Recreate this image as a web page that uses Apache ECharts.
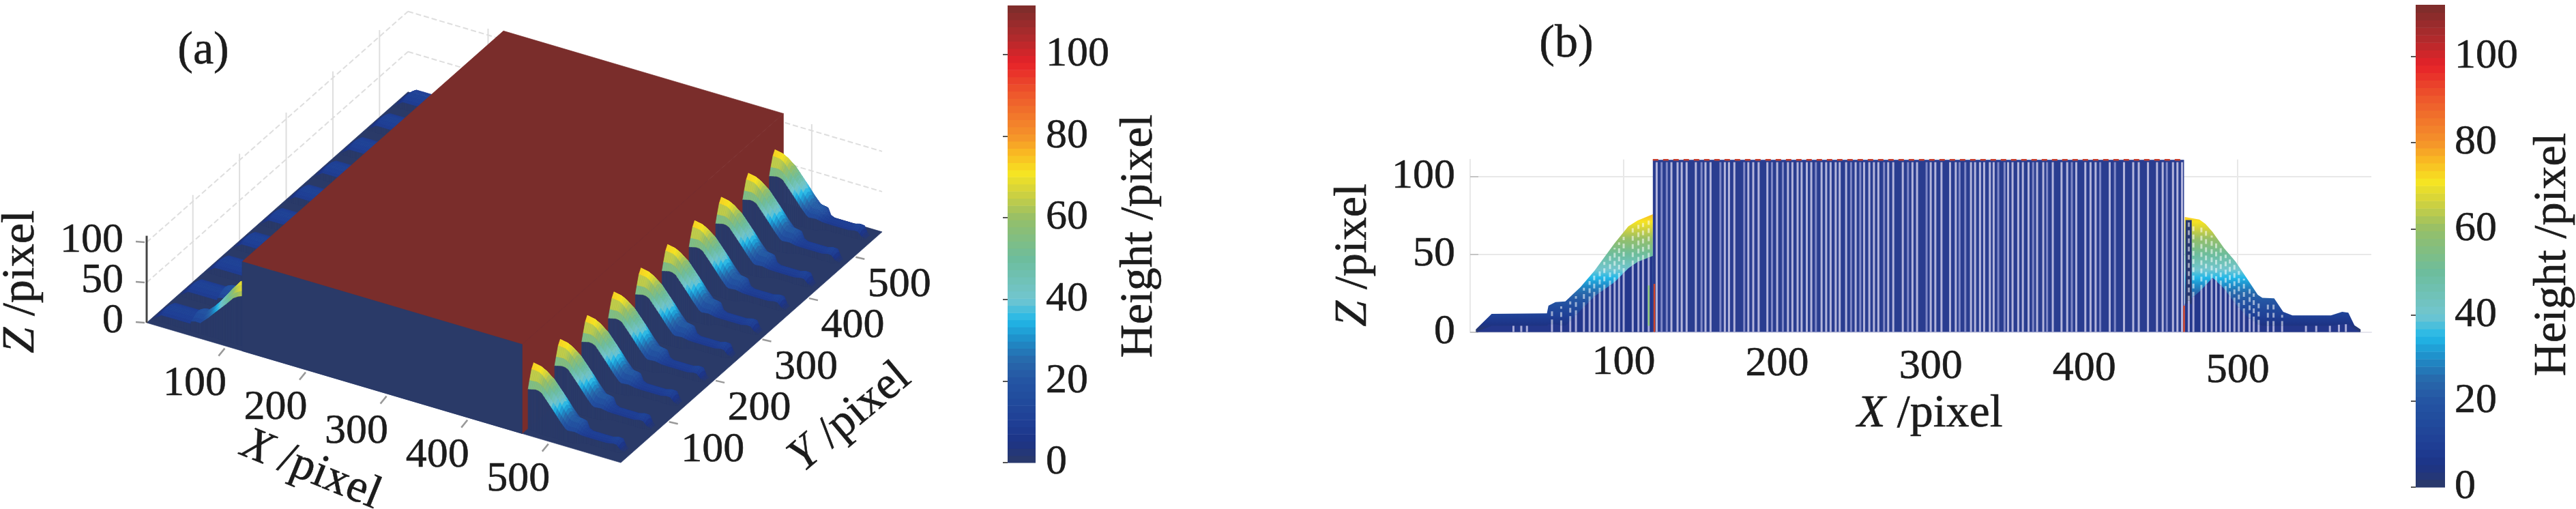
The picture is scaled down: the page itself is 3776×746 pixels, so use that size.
<!DOCTYPE html>
<html><head><meta charset="utf-8">
<style>html,body{margin:0;padding:0;background:#fff;overflow:hidden}#c{width:3776px;height:746px}</style>
<script src="https://cdn.jsdelivr.net/npm/echarts@6/dist/echarts.min.js"></script>
</head><body><div id="c"></div>
<script>
// ---- values ----
const axisTicks = [100, 200, 300, 400, 500];
const zTicks = [0, 50, 100];
const barTicks = [0, 20, 40, 60, 80, 100];
const colorZ = [0, 5, 10, 20, 25, 30, 35, 40, 50, 60, 66, 71, 76, 80, 90, 98, 104, 112];
const colorHex = ['#2b3a68','#1d3486','#1f3f95','#2455a3','#2868ab','#1f8cc8','#22b8e8','#72c6d0','#6dbd9c','#96bf68','#cfd13f','#f6e422','#f9b823','#f5942a','#ee5a2c','#e62229','#b22a2c','#7a2d2b'];
const leftX     = [3.7, 14, 50, 51, 55.6, 62, 72, 81, 94, 103, 109, 119];
const leftCrest = [1.7, 11.7, 12, 17, 19.3, 19.7, 29, 39.5, 57, 68, 71.7, 75.8];
const leftEdge  = [0, 4, 4, 5, 5, 4, 14, 23, 32, 41, 45, 49];
const leftWidth = [1, 1, 1, 1, 1, 1, 1, 1, 1, 1, 1, 1];
const rightX     = [465.5, 475, 479, 483.6, 491, 498.6, 506, 513, 516, 523.7, 529.6, 535.6, 560.7, 568, 572, 576, 580];
const rightCrest = [74, 72.4, 69.5, 64.4, 54, 45.3, 34.4, 24, 22, 21.7, 13, 10.7, 10.7, 13, 12.5, 4.3, 1.7];
const rightEdge  = [18, 26, 30, 35, 28, 18, 10, 5, 4, 4, 4, 4, 4, 5, 5, 2, 0];
const rightWidth = [0.8, 0.85, 0.9, 1, 1, 1, 1, 1, 1, 0.9, 0.6, 0.5, 0.5, 0.5, 0.5, 0.4, 0.3];
const toothY = [25, 82, 140, 197, 255, 312, 370, 427, 485, 542];
const toothCrossY = [-15, -11, -5.5, 0, 5.5, 11, 15];
const toothCrossMix = [0.55, 0.72, 0.93, 1.03, 0.93, 0.72, 0.55];
const brickX = [119, 465];
const brickTop = 110.8;
const extentX = [1, 587];
const extentY = [1, 561];
const brickStripes = [121.5,124.7,128.1,131.1,135.1,137.8,141,147,150.7,153.3,156.6,163,165.9,168.6,172.1,178.5,181.2,184.4,187.9,193.6,196.6,200,203.7,207,209.9,213.3,215.9,219.3,222.2,225.2,228.9,231.9,234.8,238.1,240.7,244.9,248.1,251.1,254.1,256.6,260,263,265.9,269.6,272.3,275.6,281.8,285.2,288.1,291.1,297.3,300,303,307,312.6,316.3,318.8,322.5,326.2,328.9,332.1,334.8,338.5,341,344,348.1,350.4,353.3,357,360,363.7,366.7,369.3,373.3,375.8,379.5,385.2,388.9,391.9,394.8,400.7,404.1,407.4,410.4,416.6,420,425.9,431.9,435.5,441.5,447.4,451.1,453.8,457.8,460.7,463.7];
const leftStripes = [28.2,33.3,37,53.3,59.3,65.2,68.9,74.1,77.8,80.8,84.4,87.4,91.1,94.1,97,100,105.9,109.6,112.6,116.3];
const rightStripes = [468.1,471.1,476.3,479.3,483,485.9,488.9,492.1,494.8,497.8,500.7,504,507.7,510.4,513.6,519.6,523.3,528.9,544.4,551.1,560,565.9,570.4];

// ---- helpers ----
const FONT = '"Liberation Serif", "DejaVu Serif", serif';
const INK = '#1c1c1c';
const HEAVY = 0.6;
function lerp(xs, ys, x) {
  if (x <= xs[0]) return ys[0];
  for (let i = 1; i < xs.length; i++) if (x <= xs[i]) {
    return ys[i-1] + (ys[i]-ys[i-1])*(x-xs[i-1])/(xs[i]-xs[i-1]);
  }
  return ys[ys.length-1];
}
function cmap(z) {
  z = Math.max(0, Math.min(112, z));
  let i = 1; while (i < colorZ.length-1 && z > colorZ[i]) i++;
  return echarts.color.lerp((z-colorZ[i-1])/(colorZ[i]-colorZ[i-1]), [colorHex[i-1], colorHex[i]]);
}
// oblique view of panel (a): data (X,Y,Z) -> plane used by the hidden axes
function project(X, Y, Z) {
  return [215 + 1.186*(X-1) + 0.684*(Y-1), 473 + 0.35*(X-1) - 0.604*(Y-1) - 1.18*Z];
}

// ---- panel (a) surface facets, painter-ordered ----
const NAVY = '#2a3a68', BRICK = '#7a2d2b';
const facets = [];
function facet(vs, fill) { facets.push({vs, fill}); }
function samples(xs) {
  const out = [];
  for (let i = 0; i < xs.length-1; i++) {
    const n = Math.max(1, Math.round((xs[i+1]-xs[i])/2.2));
    for (let k = 0; k < n; k++) out.push(xs[i] + (xs[i+1]-xs[i])*k/n);
  }
  out.push(xs[xs.length-1]);
  return out;
}
function addTeeth(xs, crest, edge, width) {
  const sx = samples(xs);
  const h = (x, m) => { const e = lerp(xs, edge, x), c = lerp(xs, crest, x); return e + (c-e)*m; };
  const w = x => lerp(xs, width, x);
  for (let t = toothY.length-1; t >= 0; t--) {
    const yc = toothY[t];
    for (let i = 0; i < sx.length-1; i++) {
      const a = sx[i], b = sx[i+1], wa = w(a), wb = w(b);
      for (let j = toothCrossY.length-1; j > 0; j--) {
        const y1 = toothCrossY[j], y0 = toothCrossY[j-1];
        const m1 = toothCrossMix[j], m0 = toothCrossMix[j-1];
        const z = [h(a,m0), h(b,m0), h(b,m1), h(a,m1)];
        facet([[a,yc+y0*wa,z[0]],[b,yc+y0*wb,z[1]],[b,yc+y1*wb,z[2]],[a,yc+y1*wa,z[3]]], cmap((z[0]+z[1]+z[2]+z[3])/4));
      }
      const y0 = toothCrossY[0], m0 = toothCrossMix[0];
      facet([[a,yc+y0*wa,0],[b,yc+y0*wb,0],[b,yc+y0*wb,h(b,m0)],[a,yc+y0*wa,h(a,m0)]], NAVY);
    }
  }
}
facet([[extentX[0],extentY[0],0],[extentX[1],extentY[0],0],[extentX[1],extentY[1],0],[extentX[0],extentY[1],0]], NAVY);
addTeeth(leftX, leftCrest, leftEdge, leftWidth);
facet([[brickX[1],extentY[0],0],[brickX[1],extentY[1],0],[brickX[1],extentY[1],brickTop],[brickX[1],extentY[0],brickTop]], BRICK);
facet([[brickX[0],extentY[0],brickTop],[brickX[1],extentY[0],brickTop],[brickX[1],extentY[1],brickTop],[brickX[0],extentY[1],brickTop]], BRICK);
facet([[brickX[0],extentY[0],0],[brickX[1],extentY[0],0],[brickX[1],extentY[0],brickTop],[brickX[0],extentY[0],brickTop]], NAVY);
addTeeth(rightX, rightCrest, rightEdge, rightWidth);

// light grid of the 3-D box
const GRIDZ = 108;
const boxLines = [];
[50,100].forEach(z => {
  boxLines.push([[extentX[0],extentY[0],z],[extentX[0],extentY[1],z]]);
  boxLines.push([[extentX[0],extentY[1],z],[extentX[1],extentY[1],z]]);
});
axisTicks.forEach(v => {
  boxLines.push([[extentX[0],v,0],[extentX[0],v,GRIDZ]]);
  boxLines.push([[v,extentY[1],0],[v,extentY[1],GRIDZ]]);
});

// ---- text and tick marks of panel (a), given in data space plus a screen offset ----
const tickMarks = [], tickTexts = [];
axisTicks.forEach(v => {
  tickMarks.push({p:[v,extentY[0],0], a:[-12,14], b:[-3,3]});
  tickTexts.push({p:[v,extentY[0],0], off:[-47,55], text:String(v), align:'center'});
  tickMarks.push({p:[extentX[1],v,0], a:[16,3], b:[3,0]});
  tickTexts.push({p:[extentX[1],v,0], off:[67,41], text:String(v), align:'center'});
});
zTicks.forEach(v => {
  tickMarks.push({p:[extentX[0],extentY[0],v], a:[-16,-1], b:[-3,0]});
  tickTexts.push({p:[extentX[0],extentY[0],v], off:[-34,-2], text:String(v), align:'right'});
});

// ---- bar levels ----
const barLevels = [];
for (let i = 0; i < 64; i++) barLevels.push([i*112/64, (i+1)*112/64]);

// ---- series ----
const hiddenA = {xAxisIndex:0, yAxisIndex:0};
const series = [
  Object.assign({type:'custom', name:'box grid', silent:true, clip:false, animation:false, z:1,
    data: boxLines.map((_, i) => [i]),
    renderItem(p, api) {
      const l = boxLines[api.value(0)];
      const a = api.coord(project(...l[0])), b = api.coord(project(...l[1]));
      return {type:'line', shape:{x1:a[0],y1:a[1],x2:b[0],y2:b[1]}, style:{stroke:'#dedede', lineWidth:2, lineDash: l[0][2]===l[1][2] ? [8,4] : null}};
    }}, hiddenA),
  Object.assign({type:'custom', name:'height surface', silent:true, clip:false, animation:false, progressive:0, z:2,
    data: facets.map((_, i) => [i]),
    renderItem(p, api) {
      const f = facets[api.value(0)];
      const pts = f.vs.map(v => api.coord(project(v[0], v[1], v[2])));
      return {type:'polygon', shape:{points:pts}, style:{fill:f.fill, stroke:f.fill, lineWidth:0.7}};
    }}, hiddenA),
  Object.assign({type:'custom', name:'ticks a', silent:true, clip:false, animation:false, z:3,
    data: tickMarks.map((_, i) => [i]),
    renderItem(p, api) {
      const t = tickMarks[api.value(0)];
      const c = api.coord(project(...t.p));
      return {type:'line', shape:{x1:c[0]+t.a[0],y1:c[1]+t.a[1],x2:c[0]+t.b[0],y2:c[1]+t.b[1]}, style:{stroke:'#999', lineWidth:2.5}};
    }}, hiddenA),
  Object.assign({type:'custom', name:'tick labels a', silent:true, clip:false, animation:false, z:4,
    data: tickTexts.map((_, i) => [i]),
    renderItem(p, api) {
      const t = tickTexts[api.value(0)];
      const c = api.coord(project(...t.p));
      return {type:'text', x:c[0]+t.off[0], y:c[1]+t.off[1],
        style:{text:t.text, fill:INK, stroke:INK, lineWidth:HEAVY, font:'62px '+FONT, align:t.align, verticalAlign:'middle'}};
    }}, hiddenA),
  Object.assign({type:'custom', name:'z axis', silent:true, clip:false, animation:false, z:3,
    data:[[0]],
    renderItem(p, api) {
      const a = api.coord(project(extentX[0],extentY[0],0)), b = api.coord(project(extentX[0],extentY[0],108));
      return {type:'line', shape:{x1:a[0],y1:a[1],x2:b[0],y2:b[1]}, style:{stroke:'#444', lineWidth:3}};
    }}, hiddenA)
];
function barSeries(i) {
  return {type:'custom', name:'colorbar '+i, silent:true, clip:false, animation:false, z:2, xAxisIndex:i, yAxisIndex:i,
    data: barLevels.map(l => [l[0], l[1]]),
    renderItem(p, api) {
      const a = api.coord([0, api.value(0)]), b = api.coord([1, api.value(1)]);
      return {type:'rect', shape:{x:a[0], y:b[1], width:b[0]-a[0], height:a[1]-b[1]+0.6},
        style:{fill:cmap((api.value(0)+api.value(1))/2)}};
    }};
}
series.push(barSeries(1), barSeries(3));

// ---- panel (b): side view on real axes ----
const closed = (xs, ys) => [[xs[0],0]].concat(xs.map((x,i)=>[x,ys[i]])).concat([[xs[xs.length-1],0]]);
const sideShapes = [
  {pts: closed(leftX, leftCrest), kind:'grad'},
  {pts: closed(rightX, rightCrest), kind:'grad'},
  {pts: closed(leftX, leftEdge), kind:'#24378c'},
  {pts: closed(rightX, rightEdge), kind:'#24378c'},
  {pts: [[466,18],[466,72],[470,72],[470,18]], kind:'#27376f'},
  {pts: [[brickX[0],0],[brickX[0],brickTop],[brickX[1],brickTop],[brickX[1],0]], kind:'#2a3d90'}
];
series.push({type:'custom', name:'side view', silent:true, clip:false, animation:false, z:2, xAxisIndex:2, yAxisIndex:2,
  data: sideShapes.map((_, i) => [i]),
  renderItem(p, api) {
    const s = sideShapes[api.value(0)];
    const pts = s.pts.map(q => api.coord(q));
    let fill = s.kind;
    if (fill === 'grad') {
      const y0 = api.coord([0,0])[1], y1 = api.coord([0,112])[1];
      fill = {type:'linear', global:true, x:0, y:y0, x2:0, y2:y1,
        colorStops: colorZ.map((z,i)=>({offset:z/112, color:colorHex[i]}))};
    }
    return {type:'polygon', shape:{points:pts}, style:{fill}};
  }});
const sideStripes = [];
brickStripes.forEach((x,i) => sideStripes.push({x, lo:0, hi:brickTop-1.5, color: i%7===1||i%9===2 ? '#7f88c6' : '#b3b5dc', w:3}));
[[leftStripes,leftX,leftCrest,leftEdge],[rightStripes,rightX,rightCrest,rightEdge]].forEach(g => {
  g[0].forEach(x => {
    const e = lerp(g[1],g[3],x), c = lerp(g[1],g[2],x);
    sideStripes.push({x, lo:0, hi:Math.max(e,3), color:'#a9acd8', w:3});
    if (c-e > 8) sideStripes.push({x, lo:e, hi:c-3, color:'rgba(255,255,255,0.55)', w:3, dash:[7,5]});
  });
});
series.push({type:'custom', name:'side stripes', silent:true, clip:false, animation:false, z:3, xAxisIndex:2, yAxisIndex:2,
  data: sideStripes.map((_, i) => [i]),
  renderItem(p, api) {
    const s = sideStripes[api.value(0)];
    const a = api.coord([s.x,s.lo]), b = api.coord([s.x,s.hi]);
    return {type:'line', shape:{x1:a[0],y1:a[1],x2:b[0],y2:b[1]}, style:{stroke:s.color, lineWidth:s.w, lineDash:s.dash||null}};
  }});
const wallEdges = [
  {x:120, lo:0, hi:31, color:'#d0452b'},
  {x:116.3, lo:4, hi:30, color:'#8fc77a'},
  {x:465, lo:0, hi:17, color:'#d0452b'}
];
series.push({type:'custom', name:'wall edges', silent:true, clip:false, animation:false, z:4, xAxisIndex:2, yAxisIndex:2,
  data: wallEdges.map((_, i) => [i]),
  renderItem(p, api) {
    const s = wallEdges[api.value(0)];
    const a = api.coord([s.x,s.lo]), b = api.coord([s.x,s.hi]);
    return {type:'line', shape:{x1:a[0],y1:a[1],x2:b[0],y2:b[1]}, style:{stroke:s.color, lineWidth:2.5}};
  }});
series.push({type:'line', name:'top edge', silent:true, animation:false, z:4, xAxisIndex:2, yAxisIndex:2, symbol:'none',
  data: brickX.map(x => [x, brickTop]), lineStyle:{color:'#c8402f', width:2.5, type:[8,7]}});

// ---- axes ----
const labelStyle = {color:INK, fontFamily:FONT, fontSize:62, textBorderColor:INK, textBorderWidth:HEAVY};
const xShift = {100:0, 200:2, 300:6, 400:9, 500:12};
const rich = {};
axisTicks.forEach(v => { rich['t'+v] = {color:INK, fontFamily:FONT, fontSize:62, textBorderColor:INK, textBorderWidth:HEAVY, padding:[xShift[v],0,0,0]}; });
const barY = (gi) => ({gridIndex:gi, type:'value', position:'right', min:0, max:112, z:5,
  axisLine:{show:false}, splitLine:{show:false},
  axisTick:{inside:true, length:7, customValues:barTicks, lineStyle:{color:'#555', width:2}},
  axisLabel:Object.assign({margin:gi===1?15:14, customValues:barTicks}, labelStyle)});
const title = (text, x, y, deg, size) => ({type:'text', x, y, rotation:deg*Math.PI/180, z:20, silent:true,
  style:{text, fill:INK, stroke:INK, lineWidth:HEAVY, font:size+'px '+FONT, align:'center', verticalAlign:'middle',
    rich:{i:{fontFamily:FONT, fontStyle:'italic', fontSize:size, fill:INK, stroke:INK, lineWidth:HEAVY}}}});

const chart = echarts.init(document.getElementById('c'), null, {renderer:'canvas'});
chart.setOption({
  backgroundColor:'#fff', animation:false,
  grid:[
    {left:0, top:0, width:3776, height:746},
    {left:1477, top:8, width:41, height:670},
    {left:2155, top:233.8, width:1321, height:252.8},
    {left:3541, top:7, width:43, height:707}
  ],
  xAxis:[
    {gridIndex:0, type:'value', min:0, max:3776, show:false},
    {gridIndex:1, type:'value', min:0, max:1, show:false},
    {gridIndex:2, type:'value', min:0, max:587, interval:100,
      axisLine:{show:true, lineStyle:{color:'#e6e6ee', width:2}}, axisTick:{show:false},
      splitLine:{show:true, showMinLine:true, showMaxLine:false, lineStyle:{color:'#e8e8e8', width:2}},
      axisLabel:{margin:14, showMinLabel:false, showMaxLabel:false, formatter:v=>`{t${v}|${v}}`, rich}},
    {gridIndex:3, type:'value', min:0, max:1, show:false}
  ],
  yAxis:[
    {gridIndex:0, type:'value', min:0, max:746, inverse:true, show:false},
    barY(1),
    {gridIndex:2, type:'value', min:0, max:111, interval:50,
      axisLine:{show:true, lineStyle:{color:'#e8e8e8', width:2}},
      axisTick:{show:true, inside:true, length:12, lineStyle:{color:'#c4c4c4', width:2}},
      splitLine:{show:true, showMaxLine:false, lineStyle:{color:'#e8e8e8', width:2}},
      axisLabel:Object.assign({margin:22, showMaxLabel:false}, labelStyle)},
    barY(3)
  ],
  series,
  graphic:{elements:[
    title('(a)', 298, 75, 0, 68),
    title('(b)', 2296, 65, 0, 68),
    title('{i|Z} /pixel', 31, 413, 90, 68),
    title('{i|X} /pixel', 456, 689, -22, 68),
    title('{i|Y} /pixel', 1246, 612, 40, 68),
    title('Height /pixel', 1670, 346, 90, 68),
    title('{i|Z} /pixel', 1984, 374, 90, 68),
    title('{i|X} /pixel', 2829, 607, 0, 68),
    title('Height /pixel', 3742, 373, 90, 68)
  ]}
});
</script></body></html>
